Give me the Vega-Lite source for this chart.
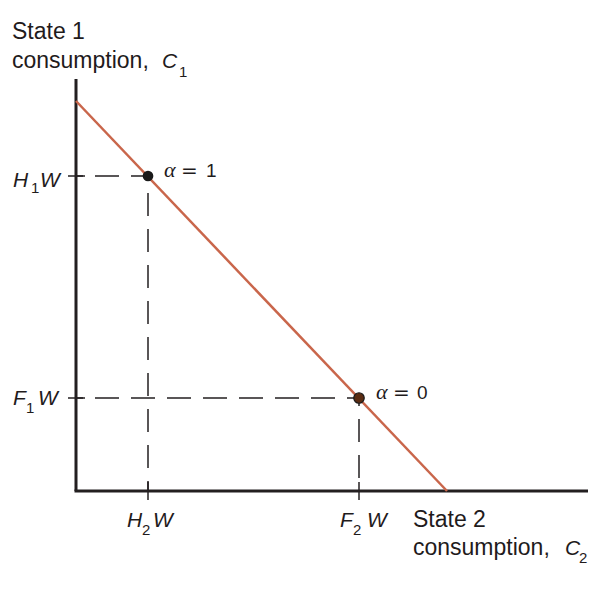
{
  "$schema": "https://vega.github.io/schema/vega-lite/v6.json",
  "width": 512,
  "height": 412,
  "autosize": "none",
  "padding": {"left": 76, "top": 79, "right": 18, "bottom": 100},
  "background": "white",
  "config": {"view": {"stroke": null}},
  "datasets": {
    "axes": [{"x": 0, "y": 0, "x2": 0, "y2": 412}, {"x": -1.5, "y": 0, "x2": 512, "y2": 0}],
    "ticks": [
      {"x": -8, "y": 315, "x2": 9, "y2": 315},
      {"x": -8, "y": 93, "x2": 9, "y2": 93},
      {"x": 72, "y": -9, "x2": 72, "y2": 9},
      {"x": 283, "y": -9, "x2": 283, "y2": 9}
    ],
    "dashH": [{"x": 0, "y": 315, "x2": 72, "y2": 315}, {"x": 0, "y": 93, "x2": 283, "y2": 93}],
    "dashV1": [{"x": 72, "y": 315, "x2": 72, "y2": 0}],
    "dashV2": [{"x": 283, "y": 0, "x2": 283, "y2": 93}],
    "budget": [{"x": 0, "y": 390, "x2": 371, "y2": 0}],
    "ptH": [{"x": 72, "y": 315}],
    "ptF": [{"x": 283, "y": 93}],
    "roman": [
      {"x": -64, "y": 452, "t": "State 1"},
      {"x": -64, "y": 423, "t": "consumption,"},
      {"x": 337, "y": -36, "t": "State 2"},
      {"x": 337, "y": -64, "t": "consumption,"}
    ],
    "italic": [
      {"x": 86, "y": 423, "t": "C"},
      {"x": 489, "y": -64, "t": "C"},
      {"x": -63, "y": 304, "t": "H"},
      {"x": -36, "y": 304, "t": "W"},
      {"x": -63, "y": 86, "t": "F"},
      {"x": -38, "y": 86, "t": "W"},
      {"x": 51, "y": -36, "t": "H"},
      {"x": 77, "y": -36, "t": "W"},
      {"x": 264, "y": -36, "t": "F"},
      {"x": 291, "y": -36, "t": "W"}
    ],
    "subs": [
      {"x": 103, "y": 414, "t": "1"},
      {"x": 503, "y": -72, "t": "2"},
      {"x": -45, "y": 298, "t": "1"},
      {"x": -50, "y": 78, "t": "1"},
      {"x": 66, "y": -44, "t": "2"},
      {"x": 277, "y": -44, "t": "2"}
    ],
    "alpha": [{"x": 88, "y": 314, "t": "α"}, {"x": 300, "y": 92, "t": "α"}],
    "eq": [{"x": 105, "y": 314, "t": "="}, {"x": 317, "y": 92, "t": "="}],
    "digits": [{"x": 130, "y": 314, "t": "1"}, {"x": 341, "y": 92, "t": "0"}]
  },
  "encoding": {
    "x": {"field": "x", "type": "quantitative", "scale": {"domain": [0, 512], "nice": false, "zero": false}, "axis": null},
    "y": {"field": "y", "type": "quantitative", "scale": {"domain": [0, 412], "nice": false, "zero": false}, "axis": null}
  },
  "layer": [
    {
      "data": {"name": "dashH"},
      "mark": {"type": "rule", "color": "#231f20", "strokeWidth": 1.5, "strokeDash": [24, 12], "strokeDashOffset": 17},
      "encoding": {"x2": {"field": "x2"}, "y2": {"field": "y2"}}
    },
    {
      "data": {"name": "dashV1"},
      "mark": {"type": "rule", "color": "#231f20", "strokeWidth": 1.5, "strokeDash": [23, 13], "strokeDashOffset": 19},
      "encoding": {"x2": {"field": "x2"}, "y2": {"field": "y2"}}
    },
    {
      "data": {"name": "dashV2"},
      "mark": {"type": "rule", "color": "#231f20", "strokeWidth": 1.5, "strokeDash": [23, 13], "strokeDashOffset": 23},
      "encoding": {"x2": {"field": "x2"}, "y2": {"field": "y2"}}
    },
    {
      "data": {"name": "ticks"},
      "mark": {"type": "rule", "color": "#231f20", "strokeWidth": 1.5},
      "encoding": {"x2": {"field": "x2"}, "y2": {"field": "y2"}}
    },
    {
      "data": {"name": "axes"},
      "mark": {"type": "rule", "color": "#231f20", "strokeWidth": 3},
      "encoding": {"x2": {"field": "x2"}, "y2": {"field": "y2"}}
    },
    {
      "data": {"name": "budget"},
      "mark": {"type": "rule", "color": "#c9664b", "strokeWidth": 2.5},
      "encoding": {"x2": {"field": "x2"}, "y2": {"field": "y2"}}
    },
    {
      "data": {"name": "ptH"},
      "mark": {"type": "point", "filled": true, "shape": "circle", "size": 115, "color": "#1a1a1a", "opacity": 1}
    },
    {
      "data": {"name": "ptF"},
      "mark": {"type": "point", "filled": true, "shape": "circle", "size": 110, "fill": "#5a2c12", "stroke": "#1a1a1a", "strokeWidth": 1.2, "opacity": 1}
    },
    {
      "data": {"name": "roman"},
      "mark": {"type": "text", "font": "Liberation Sans", "fontSize": 23, "align": "left", "baseline": "alphabetic", "color": "#1f1b1c"},
      "encoding": {"text": {"field": "t"}}
    },
    {
      "data": {"name": "italic"},
      "mark": {"type": "text", "font": "Liberation Sans", "fontStyle": "italic", "fontSize": 21, "align": "left", "baseline": "alphabetic", "color": "#1f1b1c"},
      "encoding": {"text": {"field": "t"}}
    },
    {
      "data": {"name": "subs"},
      "mark": {"type": "text", "font": "Liberation Sans", "fontSize": 15, "align": "left", "baseline": "alphabetic", "color": "#1f1b1c"},
      "encoding": {"text": {"field": "t"}}
    },
    {
      "data": {"name": "alpha"},
      "mark": {"type": "text", "font": "Liberation Serif", "fontStyle": "italic", "fontSize": 22, "align": "left", "baseline": "alphabetic", "color": "#1f1b1c"},
      "encoding": {"text": {"field": "t"}}
    },
    {
      "data": {"name": "eq"},
      "mark": {"type": "text", "font": "DejaVu Sans", "fontSize": 20, "align": "left", "baseline": "alphabetic", "color": "#1f1b1c"},
      "encoding": {"text": {"field": "t"}}
    },
    {
      "data": {"name": "digits"},
      "mark": {"type": "text", "font": "Liberation Sans", "fontSize": 19, "align": "left", "baseline": "alphabetic", "color": "#1f1b1c"},
      "encoding": {"text": {"field": "t"}}
    }
  ]
}
